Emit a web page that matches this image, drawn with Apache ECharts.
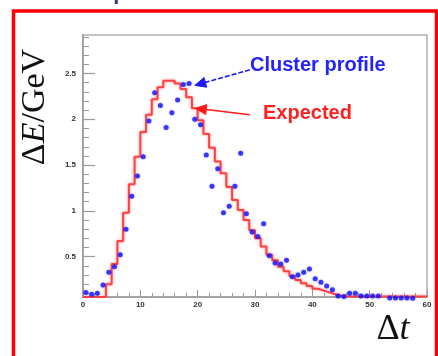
<!DOCTYPE html>
<html>
<head>
<meta charset="utf-8">
<script src="https://cdn.jsdelivr.net/npm/echarts@6/dist/echarts.min.js"></script>
<style>
  html, body { margin: 0; padding: 0; background: #fff; }
  #chart { width: 438px; height: 356px; }
</style>
</head>
<body>
<div id="chart"></div>
<script>
// Expected energy deposit per 1-unit time bin, bins [0,1) ... [59,60)
const expectedValues = [
  0.06, 0.06, 0.06, 0.06, 0.20, 0.42, 0.67, 0.98, 1.29, 1.59,
  1.86, 2.05, 2.22, 2.35, 2.42, 2.42, 2.39, 2.33, 2.24, 2.12,
  1.99, 1.84, 1.69, 1.54, 1.41, 1.26, 1.12, 1.01, 0.90, 0.79,
  0.70, 0.61, 0.52, 0.46, 0.39, 0.34, 0.29, 0.245, 0.21, 0.18,
  0.15, 0.13, 0.11, 0.09, 0.075, 0.065, 0.065, 0.065, 0.065, 0.065,
  0.065, 0.065, 0.065, 0.065, 0.065, 0.065, 0.065, 0.065, 0.065, 0.065
];

// Measured cluster profile, one point per bin centre (0.5, 1.5, ...)
const profileValues = [
  0.11, 0.09, 0.10, 0.19, 0.33, 0.39, 0.52, 0.80, 1.16, 1.38,
  1.59, 1.98, 2.29, 2.15, 1.91, 2.07, 2.21, 2.38, 2.39, 2.00,
  1.94, 1.61, 1.27, 1.46, 0.98, 1.05, 1.27, 1.63, 0.97, 0.77,
  0.72, 0.86, 0.51, 0.43, 0.42, 0.46, 0.28, 0.30, 0.33, 0.365,
  0.26, 0.22, 0.18, 0.14, 0.07, 0.065, 0.10, 0.10, 0.07, 0.07,
  0.07, 0.07, null, 0.05, 0.05, 0.05, 0.05, 0.045
];

// Axis ranges and tick labels
const xRange = [0, 60];
const xTickStep = 10;
const yRange = [0.06, 2.92];
const yMajorTicks = [0.5, 1, 1.5, 2, 2.5];
const yMinorStep = 0.1;

// Annotation arrows: [tail, head] in data coordinates
const profileArrow = [[29.1, 2.54], [19.5, 2.37]];
const expectedArrow = [[29.1, 2.05], [19.6, 2.12]];

const binWidth = 1;
const histData = expectedValues.map((v, i) => [xRange[0] + i * binWidth, v]);
histData.push([xRange[0] + expectedValues.length * binWidth, expectedValues[expectedValues.length - 1]]);
const profileData = profileValues.map((v, i) => [xRange[0] + (i + 0.5) * binWidth, v]);

const yMinorTicks = [];
for (let k = 1; k * yMinorStep < yRange[1]; k++) {
  const v = +(k * yMinorStep).toFixed(2);
  if (yMajorTicks.indexOf(v) < 0) yMinorTicks.push(v);
}

const axisGrey = '#9a9a9a';
const labelFont = { fontFamily: 'Liberation Sans', fontWeight: 'bold', fontSize: 8, color: '#333' };

const chart = echarts.init(document.getElementById('chart'), null, { renderer: 'canvas' });

const staticGraphics = [
  {
    type: 'rect', silent: true,
    shape: { x: 13.5, y: 11, width: 423, height: 370 },
    style: { fill: 'none', stroke: '#ff0000', lineWidth: 3.5 }
  },
  {
    type: 'text', silent: true, x: 8, y: 4,
    style: { text: 'Pulse Shape', font: 'bold 22px "Liberation Sans"', fill: '#3a3a78',
             textAlign: 'left', textVerticalAlign: 'bottom' }
  },
  {
    type: 'text', silent: true, x: 35, y: 107, rotation: Math.PI / 2,
    style: {
      text: '{n|Δ}{i|E}{n|/GeV}',
      textAlign: 'center', textVerticalAlign: 'middle',
      rich: {
        n: { fontFamily: 'Liberation Serif', fontSize: 34, fill: '#111' },
        i: { fontFamily: 'Liberation Serif', fontStyle: 'italic', fontSize: 34, fill: '#111' }
      }
    }
  },
  {
    type: 'text', silent: true, x: 393, y: 330,
    style: {
      text: '{n|Δ}{i|t}',
      textAlign: 'center', textVerticalAlign: 'middle',
      rich: {
        n: { fontFamily: 'Liberation Serif', fontSize: 36, fill: '#111' },
        i: { fontFamily: 'Liberation Serif', fontStyle: 'italic', fontSize: 36, fill: '#111' }
      }
    }
  },
  {
    type: 'text', silent: true, x: 250, y: 65,
    style: { text: 'Cluster profile', font: 'bold 20px "Liberation Sans"', fill: '#2323ff',
             textAlign: 'left', textVerticalAlign: 'middle' }
  },
  {
    type: 'text', silent: true, x: 263, y: 113,
    style: { text: 'Expected', font: 'bold 20px "Liberation Sans"', fill: '#ff1f1f',
             textAlign: 'left', textVerticalAlign: 'middle' }
  }
];

chart.setOption({
  backgroundColor: '#fff',
  animation: false,
  grid: {
    left: 83, right: 11, top: 35, bottom: 59,
    show: true, borderColor: '#b0b0b0', borderWidth: 1.5, backgroundColor: 'transparent'
  },
  xAxis: {
    type: 'value', min: xRange[0], max: xRange[1], interval: xTickStep,
    axisLine: { show: true, lineStyle: { color: axisGrey, width: 1.5 } },
    axisTick: { show: true, inside: true, length: 7, lineStyle: { color: axisGrey, width: 1 } },
    minorTick: { show: true, splitNumber: 5, length: 4, lineStyle: { color: axisGrey, width: 1 } },
    axisLabel: Object.assign({ margin: 4 }, labelFont),
    splitLine: { show: false }
  },
  yAxis: [
    {
      type: 'value', min: yRange[0], max: yRange[1],
      axisLine: { show: true, lineStyle: { color: axisGrey, width: 1.5 } },
      axisTick: { show: true, inside: true, length: 12, customValues: yMajorTicks,
                  lineStyle: { color: axisGrey, width: 1.2 } },
      axisLabel: Object.assign({ margin: 7, customValues: yMajorTicks }, labelFont),
      splitLine: { show: false }
    },
    {
      type: 'value', min: yRange[0], max: yRange[1], position: 'left',
      axisLine: { show: false },
      axisTick: { show: true, inside: true, length: 6, customValues: yMinorTicks,
                  lineStyle: { color: axisGrey, width: 1 } },
      axisLabel: { show: false },
      splitLine: { show: false }
    }
  ],
  series: [
    {
      name: 'Expected',
      type: 'line',
      step: 'end',
      data: histData,
      showSymbol: false,
      lineStyle: { color: '#ff4040', width: 2, shadowColor: 'rgba(255,60,60,0.55)', shadowBlur: 3 },
      z: 2
    },
    {
      name: 'Cluster profile',
      type: 'scatter',
      data: profileData,
      symbol: 'circle',
      symbolSize: 5,
      clip: false,
      itemStyle: { color: '#1515ff', shadowColor: 'rgba(40,40,255,0.5)', shadowBlur: 2 },
      z: 3
    }
  ],
  graphic: staticGraphics
});

// Arrow from tail to head, with a filled triangular head, placed via the axes
function arrowGraphics(pair, color, dash) {
  const p0 = chart.convertToPixel({ gridIndex: 0 }, pair[0]);
  const p1 = chart.convertToPixel({ gridIndex: 0 }, pair[1]);
  const dx = p1[0] - p0[0], dy = p1[1] - p0[1];
  const len = Math.sqrt(dx * dx + dy * dy);
  const ux = dx / len, uy = dy / len;
  const headLen = 11, headHalf = 5;
  const bx = p1[0] - ux * headLen, by = p1[1] - uy * headLen;
  return [
    {
      type: 'line', silent: true, z: 50,
      shape: { x1: p0[0], y1: p0[1], x2: bx, y2: by },
      style: { stroke: color, lineWidth: 1.6, lineDash: dash }
    },
    {
      type: 'polygon', silent: true, z: 50,
      shape: { points: [[p1[0], p1[1]], [bx - uy * headHalf, by + ux * headHalf], [bx + uy * headHalf, by - ux * headHalf]] },
      style: { fill: color, stroke: color, lineWidth: 1 }
    }
  ];
}

chart.setOption({
  graphic: staticGraphics.concat(
    arrowGraphics(profileArrow, '#1a1aff', [5, 2]),
    arrowGraphics(expectedArrow, '#ff1a1a', null)
  )
}, { replaceMerge: ['graphic'] });
</script>
</body>
</html>
